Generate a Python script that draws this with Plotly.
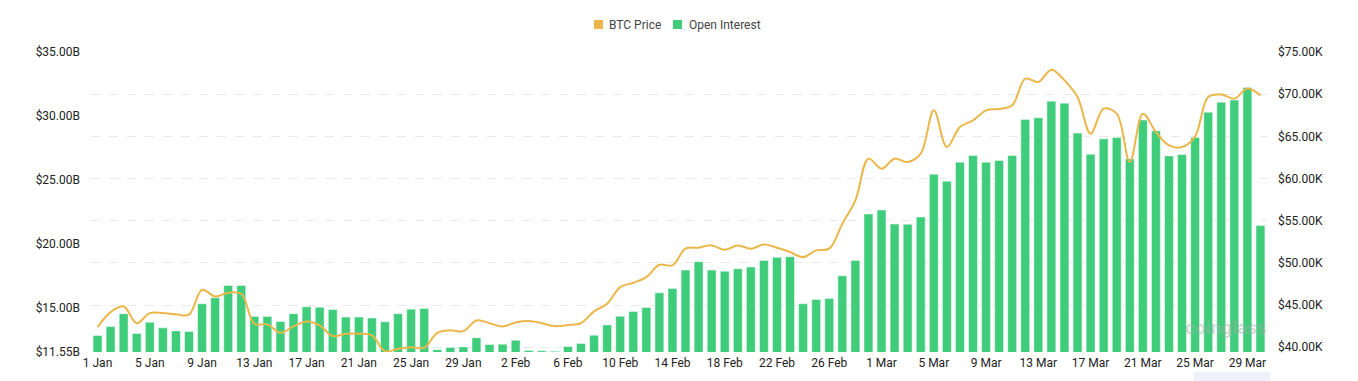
import pandas as pd
import plotly.graph_objects as go

dates = pd.date_range("2024-01-01", "2024-03-30", freq="D")

open_interest_b = [
    12.84, 13.54, 14.54, 13.00, 13.88, 13.44, 13.20, 13.15, 15.32, 15.79,
    16.75, 16.75, 14.33, 14.33, 13.93, 14.54, 15.08, 15.05, 14.87, 14.28,
    14.28, 14.20, 13.91, 14.54, 14.90, 14.95, 11.73, 11.90, 11.95, 12.66,
    12.13, 12.16, 12.47, 11.66, 11.64, 11.60, 11.98, 12.21, 12.86, 13.67,
    14.35, 14.72, 15.03, 16.18, 16.52, 17.95, 18.61, 17.95, 17.87, 18.06,
    18.19, 18.71, 18.95, 19.00, 15.32, 15.66, 15.74, 17.51, 18.71, 22.34,
    22.65, 21.55, 21.53, 22.10, 25.45, 24.90, 26.39, 26.91, 26.39, 26.52,
    26.91, 29.73, 29.86, 31.16, 31.00, 28.66, 27.01, 28.21, 28.32, 26.64,
    29.68, 28.84, 26.88, 26.99, 28.32, 30.30, 31.08, 31.24, 32.23, 21.43,
]

btc_price_k = [
    42.38, 44.16, 44.83, 42.85, 44.04, 44.04, 43.90, 43.87, 46.81, 46.02,
    46.46, 46.34, 42.78, 42.70, 41.71, 42.46, 43.05, 42.58, 41.31, 41.60,
    41.60, 41.40, 39.53, 39.81, 40.00, 39.93, 41.70, 42.00, 41.90, 43.17,
    42.85, 42.46, 42.94, 43.10, 42.85, 42.50, 42.62, 42.85, 44.24, 45.15,
    47.12, 47.64, 48.31, 49.78, 49.70, 51.68, 51.80, 52.07, 51.56, 52.07,
    51.68, 52.19, 51.80, 51.28, 50.68, 51.48, 51.68, 54.64, 57.41, 62.35,
    61.17, 62.35, 61.95, 62.95, 68.08, 63.73, 66.10, 66.90, 68.08, 68.24,
    68.68, 71.84, 71.44, 72.91, 71.64, 69.66, 65.32, 68.29, 67.69, 61.95,
    67.69, 65.51, 63.93, 63.73, 65.00, 69.66, 69.95, 69.47, 70.66, 69.86,
]

left_tickvals = [11.55, 15, 20, 25, 30, 35]
left_ticktext = ["$11.55B", "$15.00B", "$20.00B", "$25.00B", "$30.00B", "$35.00B"]
right_tickvals = [40, 45, 50, 55, 60, 65, 70, 75]
right_ticktext = ["$40.00K", "$45.00K", "$50.00K", "$55.00K", "$60.00K", "$65.00K", "$70.00K", "$75.00K"]
legend_names = ["BTC Price", "Open Interest"]

GREEN = "#3fcd7c"
ORANGE = "#ebb64a"
FONT = "Roboto"
DAY_MS = 86400000

W, H = 1358, 381
ML, MR, MT, MB = 91, 91, 52, 29
PW, PH = W - ML - MR, H - MT - MB


def px_x(px):
    return (px - ML) / PW


def px_y(py):
    return (H - MB - py) / PH


fig = go.Figure()

fig.add_trace(go.Bar(
    x=dates, y=open_interest_b, name=legend_names[1],
    marker=dict(color=GREEN, line=dict(color="rgba(255,255,255,0.45)", width=1)),
    width=0.68 * DAY_MS, yaxis="y", showlegend=False,
))

fig.add_trace(go.Scatter(
    x=dates, y=btc_price_k, name=legend_names[0], mode="lines",
    line=dict(color=ORANGE, width=2, shape="spline", smoothing=1.0),
    yaxis="y2", showlegend=False,
))

fig.update_layout(
    width=W, height=H,
    margin=dict(l=ML, r=MR, t=MT, b=MB),
    paper_bgcolor="white", plot_bgcolor="white",
    font=dict(family=FONT, size=12, color="#333333"),
    showlegend=False,
    xaxis=dict(
        type="date",
        range=["2023-12-31 12:00", "2024-03-30 12:00"],
        tick0="2024-01-01", dtick=4 * DAY_MS, tickformat="%-d %b",
        showgrid=False, zeroline=False, showline=False,
        ticks="", ticklabelstandoff=2,
        tickfont=dict(size=12, color="#222222"),
    ),
    yaxis=dict(
        range=[11.55, 35], tickvals=left_tickvals, ticktext=left_ticktext,
        showgrid=False, zeroline=False, showline=False, ticks="",
        ticklabelstandoff=10, tickfont=dict(size=12, color="#222222"),
    ),
    yaxis2=dict(
        overlaying="y", side="right",
        range=[39.43, 75.0], tickvals=right_tickvals, ticktext=right_ticktext,
        showgrid=True, gridcolor="#e9e9e9", griddash="dash", gridwidth=1,
        zeroline=False, showline=False, ticks="",
        ticklabelstandoff=10, tickfont=dict(size=12, color="#222222"),
    ),
)

# custom legend (square swatches + labels)
for name, color, sq_x, tx_x in [(legend_names[0], ORANGE, 594, 607), (legend_names[1], GREEN, 673, 687)]:
    fig.add_shape(type="rect", xref="paper", yref="paper",
                  x0=px_x(sq_x), x1=px_x(sq_x + 9), y0=px_y(29), y1=px_y(20),
                  fillcolor=color, line=dict(width=0))
    fig.add_annotation(text=name, xref="paper", yref="paper",
                       x=px_x(tx_x), y=px_y(24.5), xanchor="left", yanchor="middle",
                       showarrow=False, font=dict(size=12, color="#444444", family=FONT))

fig.add_annotation(text="<b>coinglass</b>", xref="paper", yref="paper",
                   x=px_x(1226), y=px_y(327), xanchor="center", yanchor="middle",
                   showarrow=False, font=dict(size=19, color="rgba(170,170,170,0.45)", family=FONT))

fig.add_shape(type="rect", xref="paper", yref="paper",
              x0=px_x(1194), x1=px_x(1270), y0=px_y(381), y1=px_y(372),
              fillcolor="#eef0fb", line=dict(width=0), layer="below")

fig.write_html("out.html", config={"displayModeBar": False},
               post_script="document.body.style.margin='0';")
